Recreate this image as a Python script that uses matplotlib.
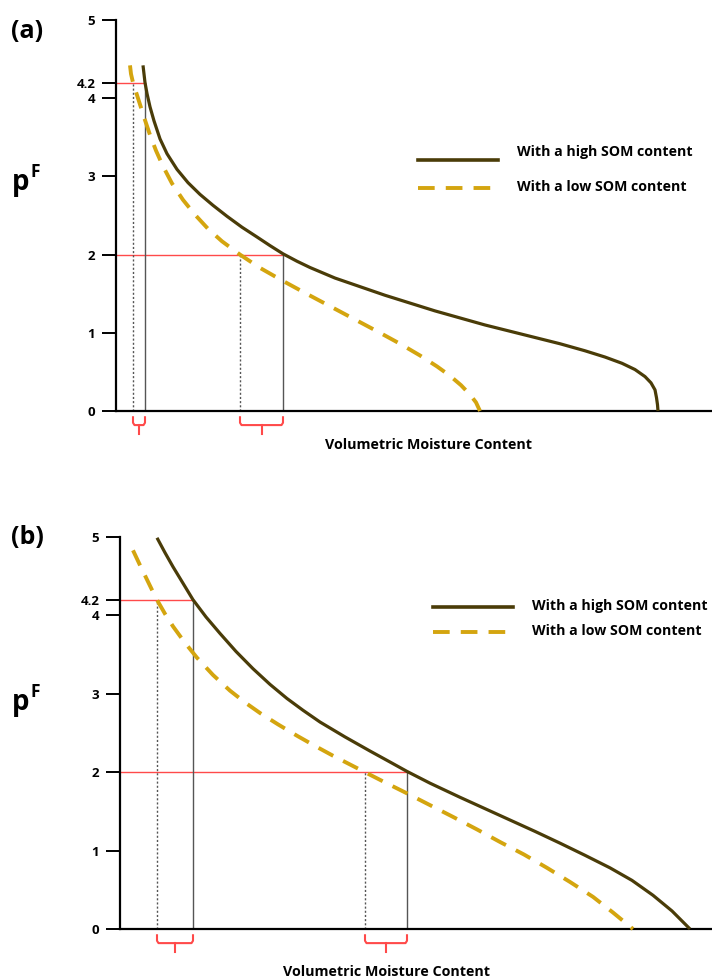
import matplotlib
matplotlib.use("Agg")
import matplotlib.pyplot as plt
from matplotlib.lines import Line2D

plt.rcParams['font.family'] = ['Open Sans', 'DejaVu Sans']
plt.rcParams['lines.scale_dashes'] = False

# ---------------- data (arbitrary moisture units, pF) ----------------
# panel (a)
high_a_x = [27, 28, 29, 31, 34, 38, 44, 51, 61, 72, 84, 97, 111, 126, 141, 154, 167, 181, 194, 219,
            244, 269, 294, 319, 344, 369, 394, 419, 444, 469, 489, 506, 519, 529, 535, 539, 540.5, 541.5, 542]
high_a_y = [4.42, 4.31, 4.20, 4.06, 3.89, 3.71, 3.48, 3.29, 3.09, 2.92, 2.77, 2.63, 2.49, 2.35, 2.225, 2.115,
            2.01, 1.915, 1.835, 1.70, 1.59, 1.48, 1.38, 1.28, 1.19, 1.10, 1.02, 0.94, 0.86, 0.77, 0.69, 0.61,
            0.53, 0.44, 0.36, 0.27, 0.17, 0.08, 0.0]
low_a_x = [14, 15, 17, 20, 24, 29, 34, 40, 47, 56, 67, 79, 92, 106, 124, 144, 166, 189, 214, 239,
           264, 284, 304, 321, 334, 345, 354, 360, 364]
low_a_y = [4.42, 4.31, 4.20, 4.08, 3.92, 3.72, 3.53, 3.33, 3.13, 2.91, 2.70, 2.51, 2.33, 2.17, 2.00, 1.83,
           1.67, 1.51, 1.34, 1.17, 1.00, 0.86, 0.71, 0.57, 0.45, 0.33, 0.21, 0.11, 0.0]
# x positions at pF 4.2 and pF 2: [high SOM, low SOM]
wp_a = [29, 17]
fc_a = [167, 124]

# panel (b)
high_b_x = [37, 45, 53, 63, 73, 86, 100, 116, 133, 150, 167, 183, 200, 225, 250, 270, 287, 310, 340, 365,
            390, 415, 440, 465, 490, 512, 533, 552, 570]
high_b_y = [4.99, 4.80, 4.62, 4.41, 4.20, 3.98, 3.77, 3.54, 3.32, 3.12, 2.94, 2.79, 2.64, 2.45, 2.27, 2.13,
            2.01, 1.86, 1.68, 1.535, 1.39, 1.245, 1.095, 0.94, 0.78, 0.62, 0.43, 0.23, 0.0]
low_b_x = [13, 20, 28, 36, 45, 53, 65, 77, 93, 110, 125, 140, 158, 177, 195, 213, 229, 245, 265, 287,
           310, 333, 357, 380, 404, 427, 450, 473, 493, 513]
low_b_y = [4.83, 4.64, 4.43, 4.22, 4.02, 3.86, 3.65, 3.46, 3.24, 3.04, 2.89, 2.755, 2.61, 2.465, 2.335, 2.21,
           2.105, 2.0, 1.87, 1.73, 1.58, 1.43, 1.27, 1.11, 0.95, 0.78, 0.60, 0.41, 0.21, 0.0]
wp_b = [73, 37]
fc_b = [287, 245]

yticks = [0, 1, 2, 3, 4, 4.2, 5]
ytick_labels = ['0', '1', '2', '3', '4', '4.2', '5']
legend_labels = ['With a high SOM content', 'With a low SOM content']
xlabel = 'Volumetric Moisture Content'

HIGH_C = '#4a3c08'
LOW_C = '#d4a50f'
RED = '#ff4a4a'
GRAY = '#555555'

W, H = 712, 980
fig = plt.figure(figsize=(W / 100, H / 100), dpi=100)


def fx(px):
    return px / W


def fy(py):
    return 1 - py / H


def panel(rect, hx, hy, lx, ly, wp, fc, xmax, tag, tag_y, pf_y, leg, xl):
    ax = fig.add_axes(rect)
    ax.set_xlim(0, xmax)
    ax.set_ylim(0, 5)
    for s in ['top', 'right']:
        ax.spines[s].set_visible(False)
    ax.spines['left'].set_linewidth(1.6)
    ax.spines['bottom'].set_linewidth(1.6)
    ax.set_xticks([])
    ax.set_yticks(yticks)
    ax.set_yticklabels(ytick_labels, fontsize=9.5, fontweight='bold')
    ax.tick_params(axis='y', length=10, width=1.4, pad=5)

    # guide lines
    ax.plot([0, wp[0]], [4.2, 4.2], color=RED, lw=1.0, zorder=2)
    ax.plot([0, fc[0]], [2, 2], color=RED, lw=1.0, zorder=2)
    ax.plot([wp[0], wp[0]], [0, 4.2], color=GRAY, lw=1.0, zorder=2)
    ax.plot([fc[0], fc[0]], [0, 2], color=GRAY, lw=1.0, zorder=2)
    ax.plot([wp[1], wp[1]], [0, 4.2], color=GRAY, lw=1.0, ls=(0, (1.5, 1.5)), zorder=2)
    ax.plot([fc[1], fc[1]], [0, 2], color=GRAY, lw=1.0, ls=(0, (1.5, 1.5)), zorder=2)

    # curves
    ax.plot(hx, hy, color=HIGH_C, lw=2.3, solid_capstyle='butt', solid_joinstyle='round',
            zorder=3, clip_on=False)
    ax.plot(lx, ly, color=LOW_C, lw=2.8, dashes=(12, 8), dash_joinstyle='round',
            zorder=3, clip_on=False)

    # braces below the axis
    for a, b in [(wp[1], wp[0]), (fc[1], fc[0])]:
        m = (a + b) / 2
        ax.plot([a, a, a + 1.5, b - 1.5, b, b], [-0.08, -0.15, -0.18, -0.18, -0.15, -0.08],
                color=RED, lw=1.5, clip_on=False)
        ax.plot([m, m], [-0.18, -0.29], color=RED, lw=1.5, clip_on=False)

    # labels
    fig.text(fx(11), fy(tag_y), tag, fontsize=18, fontweight='bold', ha='left', va='center')
    fig.text(fx(12), fy(pf_y), 'p', fontsize=20, fontweight='bold', ha='left', va='baseline')
    fig.text(fx(31), fy(pf_y - 13), 'F', fontsize=12.5, fontweight='bold', ha='left', va='baseline')
    fig.text(fx(xl[0]), fy(xl[1]), xlabel, fontsize=10.3, fontweight='bold', ha='center', va='center')

    # legend
    (lx0, lx1, ly0, ly1, tx, ty0, ty1) = leg
    fig.add_artist(Line2D([fx(lx0), fx(lx1)], [fy(ly0), fy(ly0)], color=HIGH_C, lw=2.6))
    fig.add_artist(Line2D([fx(lx0), fx(lx1)], [fy(ly1), fy(ly1)], color=LOW_C, lw=2.8,
                          dashes=(12, 8)))
    fig.text(fx(tx), fy(ty0), legend_labels[0], fontsize=10.2, fontweight='bold', ha='left', va='center')
    fig.text(fx(tx), fy(ty1), legend_labels[1], fontsize=10.2, fontweight='bold', ha='left', va='center')
    return ax


panel([fx(116), fy(411), (712 - 116) / W, (411 - 20) / H],
      high_a_x, high_a_y, low_a_x, low_a_y, wp_a, fc_a, 596,
      '(a)', 31, 190, (418, 498, 160, 188, 517, 152, 187), (429, 445))

panel([fx(120), fy(929), (712 - 120) / W, (929 - 537) / H],
      high_b_x, high_b_y, low_b_x, low_b_y, wp_b, fc_b, 592,
      '(b)', 537, 710, (433, 513, 607, 632, 532, 606, 631), (386, 972))

fig.savefig('out.png', dpi=100)
